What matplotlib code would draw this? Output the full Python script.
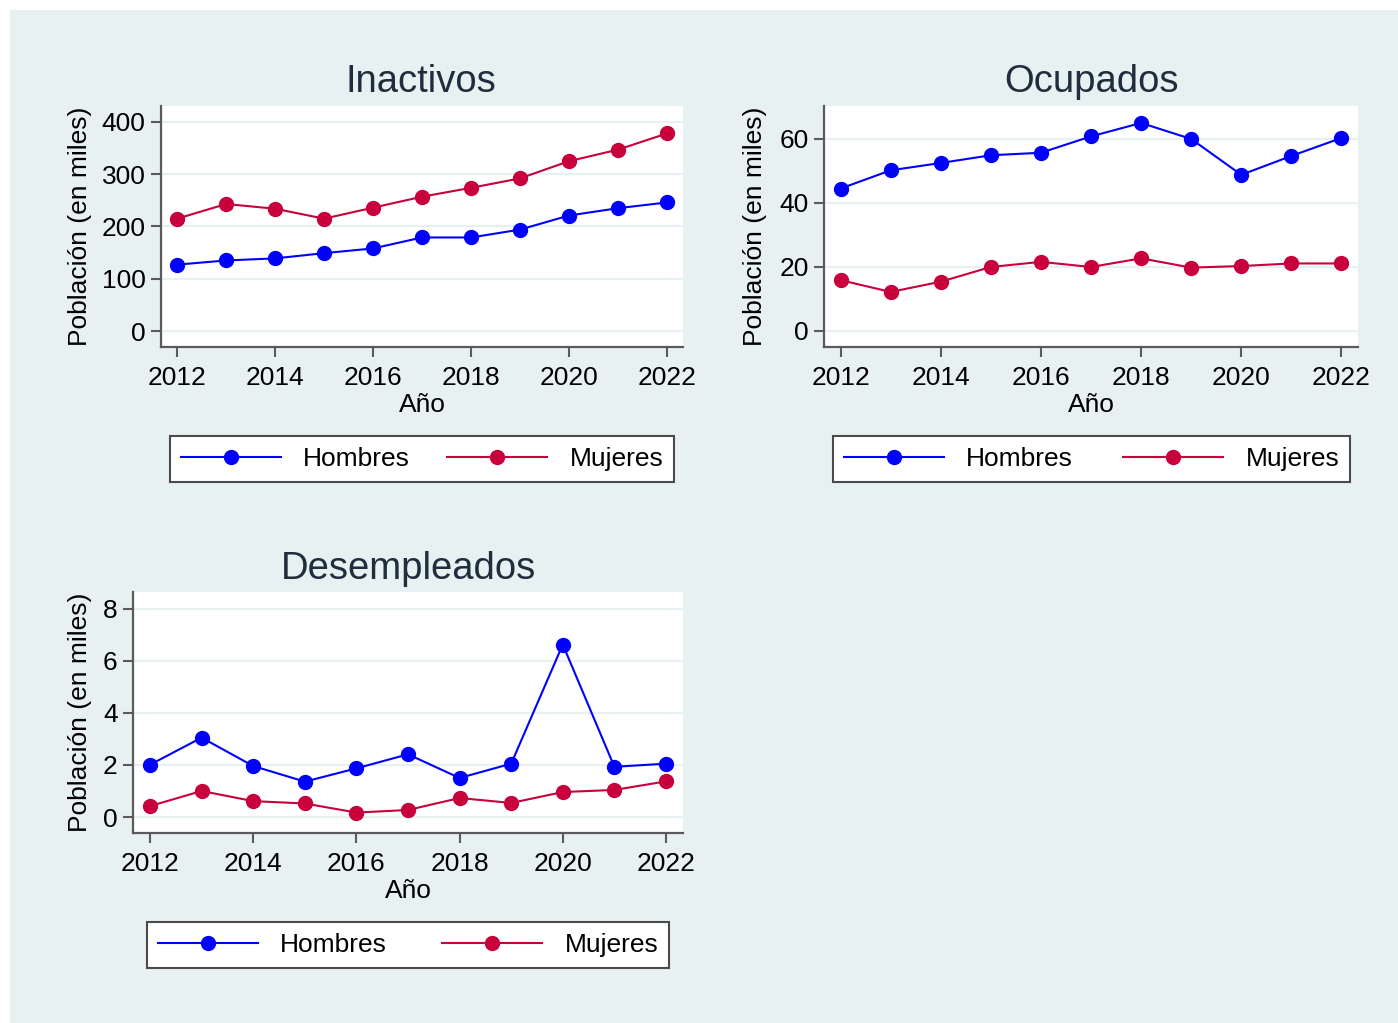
import matplotlib
matplotlib.use("Agg")
import matplotlib.pyplot as plt
from matplotlib.patches import Rectangle
from matplotlib import rcParams

rcParams['font.family'] = ['Liberation Sans', 'DejaVu Sans']

years = [2012, 2013, 2014, 2015, 2016, 2017, 2018, 2019, 2020, 2021, 2022]
year_ticks = [2012, 2014, 2016, 2018, 2020, 2022]

# poblacion en miles
inact_hombres = [127, 135, 139, 149, 158, 179, 179, 194, 221, 235, 246]
inact_mujeres = [215, 243, 234, 215, 236, 257, 274, 292, 325, 347, 378]
ocup_hombres = [44.5, 50.2, 52.5, 54.9, 55.7, 60.8, 65.0, 60.0, 48.8, 54.7, 60.3]
ocup_mujeres = [15.9, 12.2, 15.4, 20.0, 21.6, 20.0, 22.7, 19.8, 20.3, 21.1, 21.1]
desemp_hombres = [2.01, 3.05, 1.96, 1.36, 1.87, 2.41, 1.50, 2.05, 6.63, 1.93, 2.05]
desemp_mujeres = [0.42, 1.00, 0.61, 0.52, 0.17, 0.27, 0.73, 0.54, 0.96, 1.04, 1.37]

blue = '#0000FF'
red = '#C8003C'
bg = '#E8F1F2'
W, H = 1398, 1023

fig = plt.figure(figsize=(W / 100, H / 100), dpi=100)
fig.set_facecolor('white')
fig.patches.append(Rectangle((10 / W, 0), 1, 1 - 10 / H, transform=fig.transFigure,
                             facecolor=bg, edgecolor='none', zorder=-10))


def px_axes(left, right, top, bottom):
    return fig.add_axes([left / W, 1 - bottom / H, (right - left) / W, (bottom - top) / H])


panels = [
    # title, hombres, mujeres, (l, r, t, b), yticks, ylim, title pos, ylabel x, legend box (l, r, yc)
    ("Inactivos", inact_hombres, inact_mujeres, (161, 683, 106, 347),
     [0, 100, 200, 300, 400], (-30.6, 430.6), (421, 82), -0.132, (170, 674, 459)),
    ("Ocupados", ocup_hombres, ocup_mujeres, (824, 1358, 106, 347),
     [0, 20, 40, 60], (-5.0, 70.3), (1091, 82), -0.107, (833, 1350, 459)),
    ("Desempleados", desemp_hombres, desemp_mujeres, (133, 683, 592, 833),
     [0, 2, 4, 6, 8], (-0.615, 8.65), (408, 569), -0.0745, (147, 669, 945)),
]

for title, hom, muj, box, yt, ylim, tpos, ylx, lbox in panels:
    ax = px_axes(*box)
    ax.set_facecolor('white')
    ax.plot(years, hom, color=blue, lw=1.5, marker='o', ms=10, label='Hombres', zorder=3)
    ax.plot(years, muj, color=red, lw=1.5, marker='o', ms=10, label='Mujeres', zorder=3)
    ax.set_xlim(2011.67, 2022.33)
    ax.set_ylim(*ylim)
    ax.set_xticks(year_ticks)
    ax.set_yticks(yt)
    ax.grid(axis='y', color=bg, lw=1.5, zorder=0)
    ax.set_axisbelow(True)
    for s in ['top', 'right']:
        ax.spines[s].set_visible(False)
    for s in ['left', 'bottom']:
        ax.spines[s].set_color('#5a5a5a')
        ax.spines[s].set_linewidth(1.6)
    ax.tick_params(length=7, width=1.5, color='#5a5a5a', labelsize=19)
    ax.tick_params(axis='x', pad=7)
    ax.tick_params(axis='y', pad=4)
    ax.set_ylabel('Población (en miles)', fontsize=19)
    ax.yaxis.set_label_coords(ylx, 0.5)
    ax.set_xlabel('Año', fontsize=19, va='top')
    ax.xaxis.set_label_coords(0.5, -0.19)
    fig.text(tpos[0] / W, 1 - tpos[1] / H, title, fontsize=27.5, color='#1f2d3d',
             ha='center', va='center')
    leg = ax.legend(loc='center',
                    bbox_to_anchor=(lbox[0] / W, 1 - lbox[2] / H, (lbox[1] - lbox[0]) / W, 0),
                    bbox_transform=fig.transFigure, ncol=2, mode='expand', fontsize=19,
                    handlelength=3.8, handletextpad=0.85, borderaxespad=0,
                    borderpad=0.4, fancybox=False, framealpha=1)
    leg.get_frame().set_edgecolor('#4a4a4a')
    leg.get_frame().set_linewidth(1.5)

fig.savefig('out.png', dpi=100, facecolor='white')
